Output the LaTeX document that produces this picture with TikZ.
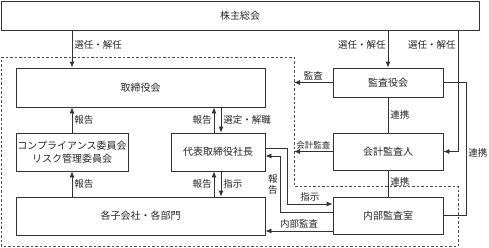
\documentclass[tikz,border=0pt]{standalone}
\usepackage{fontspec}
\setmainfont{Noto Sans CJK JP}
\usetikzlibrary{arrows.meta}

\begin{document}
\begin{tikzpicture}[x=1pt, y=-1pt, >={Latex[length=6pt,width=5pt]},
    box/.style={draw=black!80, line width=0.8pt, inner sep=0pt, align=center,
        font=\fontsize{10}{12.5}\selectfont, text=black!85},
    lbl/.style={font=\fontsize{9.5}{11}\selectfont, text=black!85, inner sep=2pt},
    conn/.style={draw=black!80, line width=0.8pt},
    waku/.style={draw=black!70, line width=0.8pt, dash pattern=on 2.5pt off 2pt}]
    % 1. 表示範囲
    \useasboundingbox (0,0) rectangle (489,247);

    % 2. 社内の範囲（点線）
    \draw[waku] (1,57) -- (294,57) -- (294,186) -- (458,186) -- (458,246) -- (1,246) -- cycle;

    % 3. 各機関
    \node[box, minimum width=478pt, minimum height=29pt] (soukai) at (240,15.5) {株主総会};
    \node[box, minimum width=249pt, minimum height=39pt] (torishimari) at (140.5,87.5) {取締役会};
    \node[box, minimum width=112pt, minimum height=38pt] (comp) at (72,152) {コンプライアンス委員会\\リスク管理委員会};
    \node[box, minimum width=94pt, minimum height=38pt] (shacho) at (218,152) {代表取締役社長};
    \node[box, minimum width=249pt, minimum height=38pt] (kogaisha) at (140.5,216) {各子会社・各部門};
    \node[box, minimum width=110pt, minimum height=29pt] (kansayaku) at (388,82.5) {監査役会};
    \node[box, minimum width=110pt, minimum height=37pt] (kaikei) at (388,151.5) {会計監査人};
    \node[box, minimum width=110pt, minimum height=37pt] (naibu) at (388,215.5) {内部監査室};

    % 4. 補助座標
    \coordinate (dl) at (294,0);   % 点線の右辺
    \coordinate (r1) at (458,0);
    \coordinate (r2) at (466,0);
    \coordinate (c1) at (287,0);
    \coordinate (c2) at (280,0);
    \coordinate (n1) at ([yshift=11.5pt]naibu.west);
    \coordinate (n2) at ([yshift=3.5pt]naibu.west);
    \coordinate (n3) at ([yshift=-15.5pt]naibu.west);
    \coordinate (s1) at ([yshift=4pt]shacho.east);
    \coordinate (s2) at ([yshift=-4pt]shacho.east);

    % 5. 株主総会から
    \draw[conn, ->] (soukai.south -| comp) -- node[lbl, right, pos=0.38] {選任・解任} (torishimari.north -| comp);
    \draw[conn, ->] (soukai.south -| kansayaku) -- node[lbl, left, pos=0.38] {選任・解任} (kansayaku.north);
    \draw[conn, ->] (soukai.south -| r1) -- node[lbl, left, pos=0.12] {選任・解任} (r1 |- kaikei) -- (kaikei.east);

    % 6. 監査役会・会計監査人・内部監査室
    \draw[conn] (kansayaku.east) -- (kansayaku.east -| r2) -- node[lbl, right, pos=0.53] {連携} (r2 |- naibu) -- (naibu.east);
    \draw[conn, ->] (kansayaku.west) -- node[lbl, above] {監査} (kansayaku.west -| dl);
    \draw[conn, ->] (kaikei.west) -- node[lbl, above, font=\fontsize{8.5}{10}\selectfont] {会計監査} (kaikei.west -| dl);
    \draw[conn] (kansayaku.south) -- node[lbl, right] {連携} (kaikei.north);
    \draw[conn] (kaikei.south) -- node[lbl, right, pos=0.42] {連携} (naibu.north);

    % 7. 取締役会・委員会・子会社
    \draw[conn, ->] (comp.north) -- node[lbl, right] {報告} (torishimari.south -| comp);
    \draw[conn, ->] (kogaisha.north -| comp) -- node[lbl, right] {報告} (comp.south);

    % 8. 代表取締役社長
    \draw[conn, ->] ([xshift=-4pt]shacho.north) -- node[lbl, left] {報告} ([xshift=-4pt]shacho.north |- torishimari.south);
    \draw[conn, ->] ([xshift=3pt]shacho.north |- torishimari.south) -- node[lbl, right] {選定・解職} ([xshift=3pt]shacho.north);
    \draw[conn, ->] ([xshift=-4pt]shacho.south |- kogaisha.north) -- node[lbl, left] {報告} ([xshift=-4pt]shacho.south);
    \draw[conn, ->] ([xshift=3pt]shacho.south) -- node[lbl, right] {指示} ([xshift=3pt]shacho.south |- kogaisha.north);

    % 9. 社長と内部監査室
    \draw[conn, ->] (s1) -- (s1 -| c1) -- (c1 |- n1) -- node[lbl, above] {指示} (n1);
    \draw[conn, ->] (n2) -- (n2 -| c2) -- node[lbl, left, align=center, font=\fontsize{9.5}{11}\selectfont, pos=0.5] {報\\告} (c2 |- s2) -- (s2);
    \draw[conn, ->] (n3) -- node[lbl, above] {内部監査} (n3 -| kogaisha.east);
\end{tikzpicture}
\end{document}
